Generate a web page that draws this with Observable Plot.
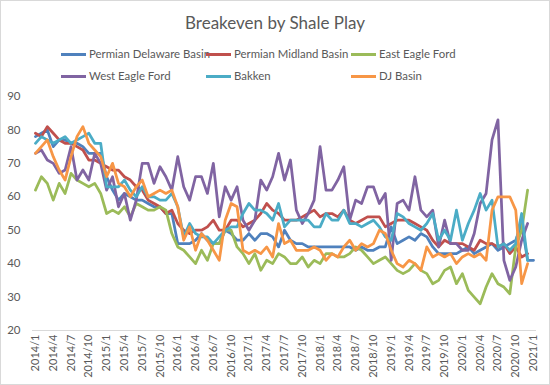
<!DOCTYPE html>
<html>
<head>
<meta charset="utf-8">
<script src="https://cdn.jsdelivr.net/npm/d3@7"></script>
<script src="https://cdn.jsdelivr.net/npm/@observablehq/plot@0.6"></script>
<style>
  html, body { margin: 0; padding: 0; background: #fff; }
  #chart { position: relative; width: 550px; height: 385px; overflow: hidden; font-family: Lato, "Liberation Sans", sans-serif; color: #595959; }
  #title { position: absolute; top: 12px; left: 0; width: 550px; text-align: center; font-size: 17px; line-height: 22px; }
  #legend { position: absolute; top: 0; left: 0; width: 550px; height: 85px; }
  .item { position: absolute; font-size: 11.4px; line-height: 14px; white-space: nowrap; }
  .sw { position: absolute; left: 0; top: 6px; width: 25px; height: 3px; }
  .lbl { position: absolute; left: 28px; top: 0; }
  #plot { position: absolute; top: 85px; left: 0; }
  #frame { position: absolute; inset: 0; border: 1px solid #d9d9d9; pointer-events: none; }
</style>
</head>
<body>
<div id="chart">
  <div id="title">Breakeven by Shale Play</div>
  <div id="legend"></div>
  <div id="plot"></div>
  <div id="frame"></div>
</div>
<script>
const months = [
  "2014/1","2014/2","2014/3","2014/4","2014/5","2014/6","2014/7","2014/8","2014/9","2014/10","2014/11","2014/12",
  "2015/1","2015/2","2015/3","2015/4","2015/5","2015/6","2015/7","2015/8","2015/9","2015/10","2015/11","2015/12",
  "2016/1","2016/2","2016/3","2016/4","2016/5","2016/6","2016/7","2016/8","2016/9","2016/10","2016/11","2016/12",
  "2017/1","2017/2","2017/3","2017/4","2017/5","2017/6","2017/7","2017/8","2017/9","2017/10","2017/11","2017/12",
  "2018/1","2018/2","2018/3","2018/4","2018/5","2018/6","2018/7","2018/8","2018/9","2018/10","2018/11","2018/12",
  "2019/1","2019/2","2019/3","2019/4","2019/5","2019/6","2019/7","2019/8","2019/9","2019/10","2019/11","2019/12",
  "2020/1","2020/2","2020/3","2020/4","2020/5","2020/6","2020/7","2020/8","2020/9","2020/10","2020/11","2020/12",
  "2021/1"
];
const tickLabels = [
  "2014/1","2014/4","2014/7","2014/10","2015/1","2015/4","2015/7","2015/10",
  "2016/1","2016/4","2016/7","2016/10","2017/1","2017/4","2017/7","2017/10",
  "2018/1","2018/4","2018/7","2018/10","2019/1","2019/4","2019/7","2019/10",
  "2020/1","2020/4","2020/7","2020/10","2021/1"
];
const yTicks = [20, 30, 40, 50, 60, 70, 80, 90];

const seriesNames = ["Permian Delaware Basin", "Permian Midland Basin", "East Eagle Ford", "West Eagle Ford", "Bakken", "DJ Basin"];

const permianDelaware = [
  78, 79, 80, 75, 77, 77, 76, 76, 75, 73, 73, 73,
  66, 62, 59, 61, 60, 59, 59, 58, 57, 57, 55, 55,
  46, 46, 46, 47, 49, 47, 46, 46, 50, 49, 47, 47,
  49, 47, 49, 49, 48, 45, 50, 47, 46, 46, 45, 45,
  45, 45, 45, 45, 45, 45, 44, 45, 44, 44, 45, 45,
  51, 46, 47, 48, 47, 49, 48, 45, 43, 43, 43, 43,
  44, 45, 43, 44, 45, 46, 44, 45, 46, 47, 52, 41, 41
];
const permianMidland = [
  79, 78, 81, 79, 77, 76, 76, 75, 74, 71, 71, 70,
  69, 68, 68, 66, 65, 63, 62, 59, 58, 57, 55, 56,
  52, 50, 49, 50, 50, 51, 53, 50, 50, 53, 53, 51,
  52, 53, 55, 58, 56, 55, 53, 53, 53, 54, 55, 56,
  54, 55, 55, 54, 56, 53, 52, 53, 54, 54, 54, 51,
  52, 53, 53, 53, 52, 51, 50, 47, 45, 47, 46, 46,
  46, 45, 44, 47, 46, 46, 45, 46, 43, 45, 42, 43, null
];
const eastEagleFord = [
  62, 66, 64, 59, 64, 61, 67, 65, 64, 63, 64, 61,
  55, 56, 55, 57, 54, 58, 57, 56, 56, 57, 56, 49,
  45, 44, 42, 40, 44, 41, 46, 46, 50, 50, 45, 43,
  40, 43, 38, 41, 40, 43, 42, 40, 40, 42, 39, 41,
  40, 43, 43, 42, 42, 43, 45, 44, 42, 40, 41, 42,
  40, 38, 37, 38, 40, 38, 37, 34, 35, 38, 39, 34,
  37, 32, 30, 28, 33, 37, 34, 33, 31, 45, 50, 62, null
];
const westEagleFord = [
  73, 74, 71, 70, 67, 68, 75, 65, 68, 65, 73, 70,
  62, 66, 57, 61, 53, 59, 70, 70, 64, 69, 66, 62,
  72, 63, 59, 66, 66, 61, 70, 54, 63, 59, 63, 53,
  50, 53, 65, 62, 66, 73, 65, 71, 56, 52, 55, 59,
  75, 62, 62, 65, 69, 53, 59, 58, 63, 63, 58, 61,
  41, 58, 59, 56, 66, 56, 54, 56, 45, 53, 46, 46,
  44, 44, 49, 58, 61, 77, 83, 41, 35, 39, 47, 52, null
];
const bakken = [
  76, 78, 77, 76, 77, 78, 76, 77, 78, 79, 76, 76,
  63, 63, 63, 65, 62, 60, 63, 60, 60, 59, 59, 61,
  57, 48, 52, 49, 48, 48, 46, 48, 50, 51, 51, 55,
  58, 56, 56, 55, 53, 58, 51, 53, 53, 53, 53, 51,
  51, 55, 53, 53, 56, 52, 52, 51, 52, 53, 51, 48,
  47, 55, 54, 52, 51, 50, 52, 55, 47, 50, 47, 56,
  47, 52, 56, 61, 56, 59, 45, 46, 44, 46, 55, 41, null
];
const djBasin = [
  73, 75, 77, 72, 68, 65, 72, 78, 81, 76, 74, 72,
  66, 70, 64, 63, 60, 63, 65, 60, 61, 62, 61, 62,
  57, 47, 51, 44, 49, 47, 44, 41, 53, 58, 57, 44,
  43, 44, 43, 45, 42, 52, 46, 47, 44, 44, 44, 45,
  44, 41, 43, 42, 45, 47, 44, 46, 45, 46, 50, 49,
  44, 40, 39, 41, 40, 38, 45, 42, 43, 42, 43, 40,
  42, 43, 42, 43, 41, 56, 60, 60, 60, 56, 34, 40, null
];

const seriesValues = [permianDelaware, permianMidland, eastEagleFord, westEagleFord, bakken, djBasin];
const seriesColors = ["#4F81BD", "#C0504D", "#9BBB59", "#8064A2", "#4BACC6", "#F79646"];

// long table for Plot
const rows = [];
seriesNames.forEach((name, i) => {
  seriesValues[i].forEach((v, m) => rows.push({ month: months[m], idx: m, value: v, series: name }));
});
const tickIdx = tickLabels.map(t => months.indexOf(t));

// legend
const legend = document.getElementById("legend");
const colX = [61, 206, 351];
const rowY = [47, 69];
seriesNames.forEach((name, i) => {
  const it = document.createElement("div");
  it.className = "item";
  it.style.left = colX[i % 3] + "px";
  it.style.top = rowY[Math.floor(i / 3)] + "px";
  const sw = document.createElement("span");
  sw.className = "sw";
  sw.style.background = seriesColors[i];
  const lb = document.createElement("span");
  lb.className = "lbl";
  lb.textContent = name;
  it.appendChild(sw);
  it.appendChild(lb);
  legend.appendChild(it);
});

const chart = Plot.plot({
  width: 550,
  height: 300,
  marginTop: 11,
  marginBottom: 55,
  marginLeft: 32,
  marginRight: 14,
  style: { fontFamily: "Lato, 'Liberation Sans', sans-serif", fontSize: "11px", color: "#595959", background: "transparent", overflow: "visible" },
  x: { type: "linear", domain: [-0.5, months.length - 0.5] },
  y: { domain: [20, 90] },
  color: { domain: seriesNames, range: seriesColors },
  marks: [
    Plot.ruleY([20], { stroke: "#d9d9d9", strokeWidth: 1 }),
    Plot.axisY({ ticks: yTicks, tickSize: 0, tickPadding: 12, label: null, fontSize: 11.5 }),
    Plot.axisX({ ticks: tickIdx, tickFormat: i => months[i], tickRotate: -90, tickSize: 0, tickPadding: 4, label: null, fontSize: 11 }),
    Plot.line(rows, { x: "idx", y: "value", z: "series", stroke: "series", strokeWidth: 2.75, strokeLinejoin: "round", strokeLinecap: "round" })
  ]
});
document.getElementById("plot").appendChild(chart);
</script>
</body>
</html>
